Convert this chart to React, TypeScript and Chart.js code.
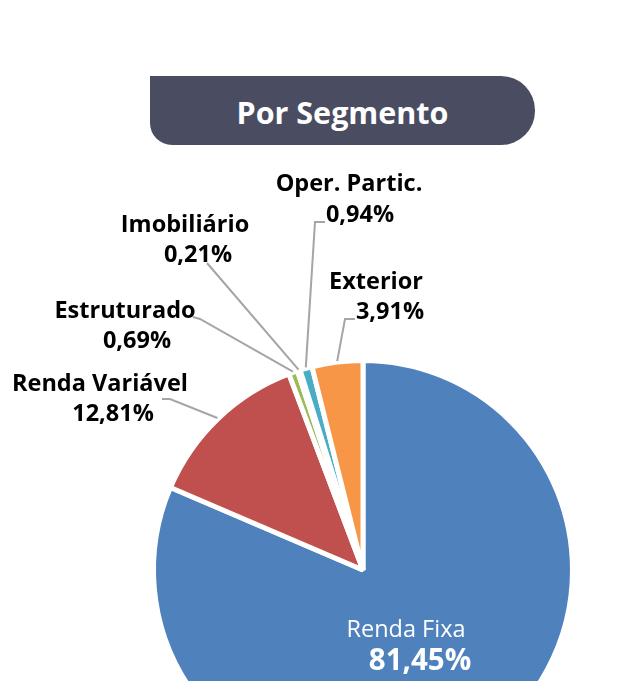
import React, { useEffect, useRef } from "react";
import { Chart, registerables } from "chart.js";

Chart.register(...registerables);

const title = "Por Segmento";
const categories = ["Renda Fixa", "Renda Variável", "Estruturado", "Imobiliário", "Oper. Partic.", "Exterior"];
const values = [81.45, 12.81, 0.69, 0.21, 0.94, 3.91];
const colors = ["#4F81BD", "#C0504D", "#9BBB59", "#8064A2", "#4BACC6", "#F79646"];

// label layout (pixel positions of the annotation text and leader elbows)
const labelLayout = [
  { x1: 406, y1: 630, x2: 420, y2: 662, inside: true, leader: [] as number[][] },
  { x1: 100, y1: 384, x2: 113, y2: 414, inside: false, leader: [[162, 399], [170, 399]] },
  { x1: 125, y1: 311, x2: 137, y2: 341, inside: false, leader: [[193, 317], [200, 319]] },
  { x1: 185, y1: 225, x2: 198, y2: 255, inside: false, leader: [[207, 263]] },
  { x1: 349, y1: 184, x2: 360, y2: 215, inside: false, leader: [[325, 222], [315, 222]] },
  { x1: 376, y1: 282, x2: 390, y2: 312, inside: false, leader: [[355, 319], [345, 319]] },
];

const fmt = (v: number) => v.toFixed(2).replace(".", ",") + "%";

const labelPlugin = {
  id: "pieLabels",
  afterDraw(chart: any) {
    const ctx = chart.ctx;
    const meta = chart.getDatasetMeta(0);
    ctx.save();
    meta.data.forEach((arc: any, i: number) => {
      const lay = labelLayout[i];
      if (!lay) return;
      const p = arc.getProps(["x", "y", "startAngle", "endAngle", "outerRadius"], true);
      const mid = (p.startAngle + p.endAngle) / 2;
      if (!lay.inside && lay.leader.length) {
        const ex = p.x + Math.cos(mid) * (p.outerRadius + 1);
        const ey = p.y + Math.sin(mid) * (p.outerRadius + 1);
        ctx.strokeStyle = "#A5A5A5";
        ctx.lineWidth = 2;
        ctx.beginPath();
        ctx.moveTo(lay.leader[0][0], lay.leader[0][1]);
        for (let k = 1; k < lay.leader.length; k++) ctx.lineTo(lay.leader[k][0], lay.leader[k][1]);
        ctx.lineTo(ex, ey);
        ctx.stroke();
      }
      ctx.textAlign = "center";
      ctx.textBaseline = "middle";
      if (lay.inside) {
        ctx.fillStyle = "#FFFFFF";
        ctx.font = "23.5px 'Open Sans'";
        ctx.fillText(categories[i], lay.x1, lay.y1);
        ctx.font = "bold 29.5px 'Open Sans'";
        ctx.fillText(fmt(values[i]), lay.x2, lay.y2);
      } else {
        ctx.fillStyle = "#000000";
        ctx.font = "bold 23.5px 'Open Sans'";
        ctx.fillText(categories[i], lay.x1, lay.y1);
        ctx.fillText(fmt(values[i]), lay.x2, lay.y2);
      }
    });
    ctx.restore();
  },
};

export default function App() {
  const ref = useRef<HTMLCanvasElement | null>(null);
  useEffect(() => {
    document.body.style.margin = "0";
    if (!ref.current) return;
    const chart = new Chart(ref.current, {
      type: "pie",
      data: {
        labels: categories,
        datasets: [
          {
            data: values,
            backgroundColor: colors,
            borderColor: "#FFFFFF",
            borderWidth: 5,
          },
        ],
      },
      options: {
        animation: false,
        responsive: false,
        devicePixelRatio: 1,
        radius: 209.5,
        layout: { padding: { left: 154, right: 52, top: 361, bottom: 21 } },
        plugins: {
          legend: { display: false },
          tooltip: { enabled: false },
          title: { display: false },
        },
      } as any,
      plugins: [labelPlugin],
    });
    return () => chart.destroy();
  }, []);

  return (
    <div style={{ position: "relative", width: 624, height: 681, overflow: "hidden", background: "#fff" }}>
      <canvas ref={ref} width={624} height={800} style={{ position: "absolute", left: 0, top: 0 }} />
      <div
        style={{
          position: "absolute",
          left: 150,
          top: 76,
          width: 385,
          height: 69,
          background: "#4A4D62",
          borderRadius: "0 34px 34px 22px",
          color: "#FFFFFF",
          fontFamily: "'Open Sans', sans-serif",
          fontWeight: 700,
          fontSize: 30.5,
          display: "flex",
          alignItems: "center",
          justifyContent: "center",
          boxSizing: "border-box",
        }}
      >
        <span style={{ position: "relative", left: 0, top: 1 }}>{title}</span>
      </div>
    </div>
  );
}
